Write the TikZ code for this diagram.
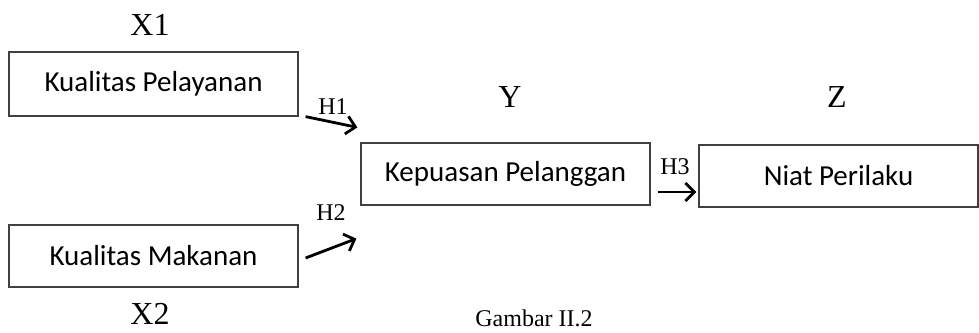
\documentclass[tikz,border=0pt]{standalone}
\usepackage{fontspec}
\setmainfont{Liberation Serif}
\newfontfamily\boxfont{Carlito}
\usetikzlibrary{arrows.meta,positioning}

\tikzset{
  var/.style={draw=black!75, line width=1.2pt, inner sep=0pt, minimum height=62pt,
    font=\boxfont\fontsize{29}{34}\selectfont},
  hyp/.style={line width=2.8pt, -{Straight Barb[length=9pt,width=18pt]}},
  tag/.style={inner sep=0pt, font=\fontsize{32}{36}\selectfont},
  htag/.style={inner sep=0pt, font=\fontsize{24}{27}\selectfont},
}

\begin{document}
\begin{tikzpicture}[x=1pt,y=-1pt]
  \useasboundingbox (0,0) rectangle (979,332);

  % variables
  \node[var, minimum width=289pt, minimum height=64pt] (pel) at (153.5,84) {Kualitas Pelayanan};
  \node[var, minimum width=289pt] (mak) at (153.5,256) {Kualitas Makanan};
  \node[var, minimum width=289pt] (kep) at (505.5,174) {Kepuasan Pelanggan};
  \node[var, minimum width=279pt] (niat) at (838.5,176) {Niat Perilaku};

  \node[tag] (x1) at (150,25) {X1};
  \node[tag] (x2) at (150,314) {X2};
  \node[tag] (y) at (510,97) {Y};
  \node[tag] (z) at (837,97) {Z};

  % hypotheses
  \draw[hyp] ([xshift=7pt]pel.south east) -- ([xshift=-3pt,yshift=15pt]kep.north west);
  \draw[hyp] ([xshift=7pt,yshift=-2pt]mak.east) -- ([xshift=-4pt,yshift=-33pt]kep.south west);
  \draw[hyp] ([xshift=7pt,yshift=-18pt]kep.east) -- ([xshift=-2pt,yshift=-16pt]niat.west);

  \node[htag] (h1) at (333,107) {H1};
  \node[htag] (h2) at (331,213) {H2};
  \node[htag] (h3) at (675,167) {H3};

  \node[htag] (cap) at (534,318) {Gambar II.2};
\end{tikzpicture}
\end{document}
